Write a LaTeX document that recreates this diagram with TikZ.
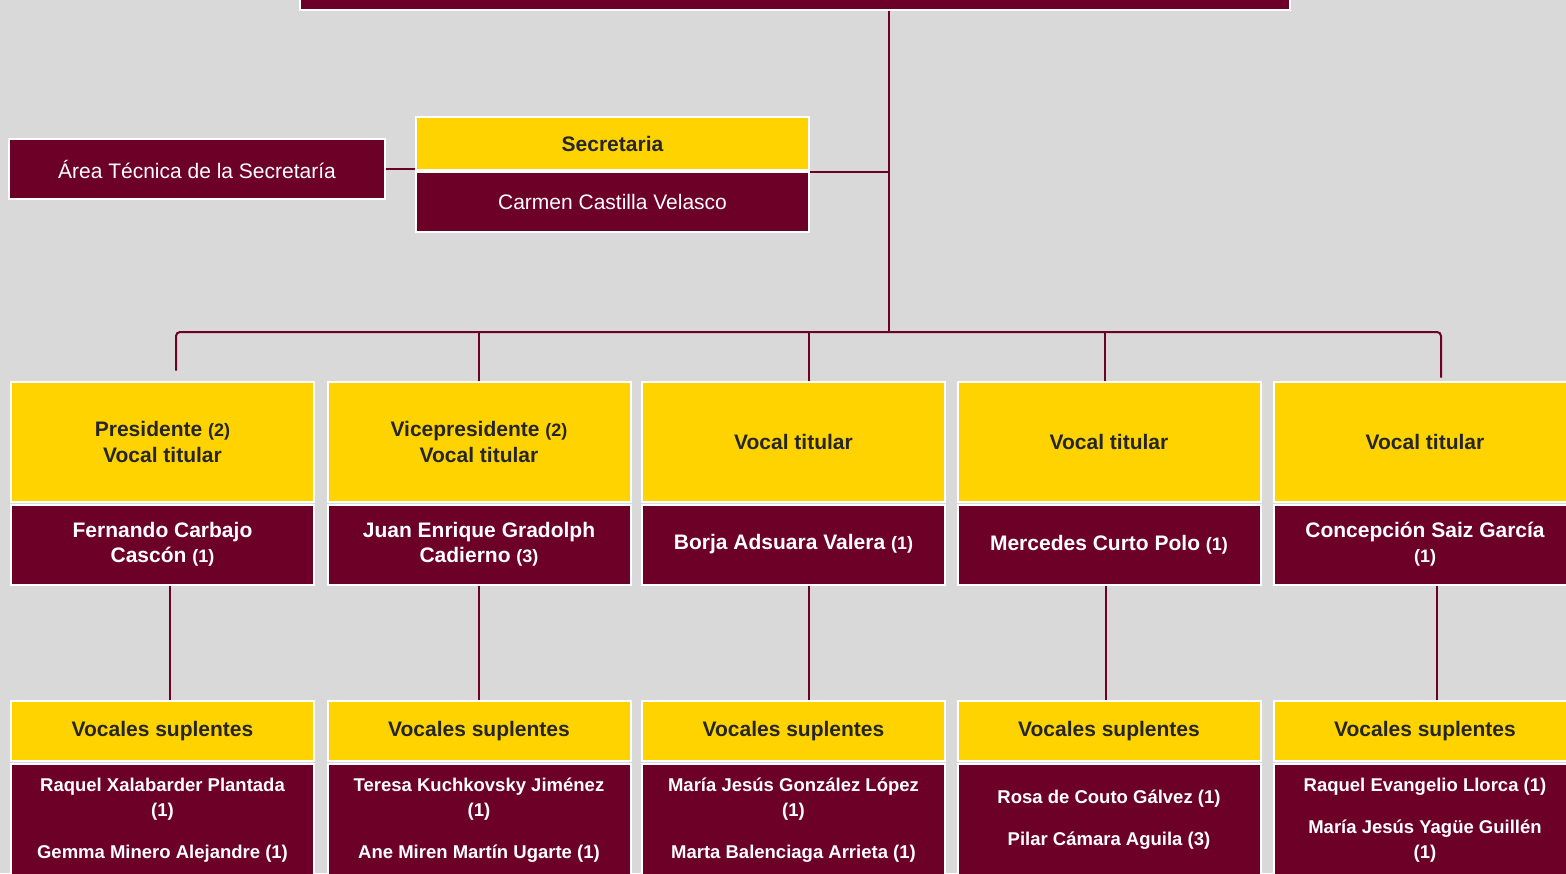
\documentclass[tikz,border=0pt]{standalone}
\usepackage{fontspec}
\setmainfont{Liberation Sans}
\usepackage{xcolor}
\definecolor{granate}{HTML}{6D0027}
\definecolor{oro}{HTML}{FFD300}
\definecolor{fondo}{HTML}{D9D9D9}
\definecolor{tinta}{HTML}{262626}
\usepackage{tikz}
\usetikzlibrary{positioning}
\tikzstyle{cargo} = [rectangle, draw=white, line width=2pt, fill=oro, text=tinta,
    font=\bfseries\fontsize{21}{26}\selectfont, align=center, inner sep=0pt,
    minimum width=303pt, minimum height=120pt]
\tikzstyle{titular} = [rectangle, draw=white, line width=2pt, fill=granate, text=white,
    font=\bfseries\fontsize{21}{25}\selectfont, align=center, inner sep=0pt,
    minimum width=303pt, minimum height=80pt]
\tikzstyle{suplentes} = [cargo, minimum height=60pt]
\tikzstyle{nombres} = [titular, font=\bfseries\fontsize{18.5}{25}\selectfont, minimum height=112pt]
\tikzstyle{plain} = [rectangle, draw=white, line width=2pt, fill=granate, text=white,
    font=\fontsize{21}{25}\selectfont, inner sep=0pt]
\tikzstyle{line} = [draw=granate, line width=2pt]
\newcommand{\nota}[1]{{\fontsize{18}{25}\selectfont #1}}

\begin{document}
\begin{tikzpicture}[x=1pt,y=-1pt,node distance=1pt]
    \useasboundingbox (0,0) rectangle (1566,873);
    \clip (0,0) rectangle (1566,873);
    \fill[fondo] (0,0) rectangle (1566,873);

    % Place nodes
    \node[plain, minimum width=990pt, minimum height=60pt] (top) at (795,-20) {};

    \node[plain, minimum width=376pt, minimum height=60pt] (area) at (197,169) {Área Técnica de la Secretaría};
    \node[cargo, minimum width=393pt, minimum height=53pt] (sec) at (612.5,143.5) {Secretaria};
    \node[plain, minimum width=393pt, minimum height=60pt, below=0pt of sec] (secname) {Carmen Castilla Velasco};

    \node[cargo] (cargo1) at (162.5,441.5) {Presidente \nota{(2)}\\Vocal titular};
    \node[cargo] (cargo2) at (479,441.5) {Vicepresidente \nota{(2)}\\Vocal titular};
    \node[cargo] (cargo3) at (793.5,441.5) {Vocal titular};
    \node[cargo] (cargo4) at (1109,441.5) {Vocal titular};
    \node[cargo] (cargo5) at (1425,441.5) {Vocal titular};

    \node[titular, below=of cargo1] (titular1) {Fernando Carbajo\\Cascón \nota{(1)}};
    \node[titular, below=of cargo2] (titular2) {Juan Enrique Gradolph\\Cadierno \nota{(3)}};
    \node[titular, below=of cargo3] (titular3) {Borja Adsuara Valera \nota{(1)}};
    \node[titular, below=of cargo4] (titular4) {Mercedes Curto Polo \nota{(1)}};
    \node[titular, below=of cargo5] (titular5) {Concepción Saiz García\\\nota{(1)}};

    \node[suplentes, below=114.5pt of titular1] (suplentes1) {Vocales suplentes};
    \node[suplentes, below=114.5pt of titular2] (suplentes2) {Vocales suplentes};
    \node[suplentes, below=114.5pt of titular3] (suplentes3) {Vocales suplentes};
    \node[suplentes, below=114.5pt of titular4] (suplentes4) {Vocales suplentes};
    \node[suplentes, below=114.5pt of titular5] (suplentes5) {Vocales suplentes};

    \node[nombres, below=of suplentes1] (nombres1) {Raquel Xalabarder Plantada\\(1)\\[17pt]Gemma Minero Alejandre (1)};
    \node[nombres, below=of suplentes2] (nombres2) {Teresa Kuchkovsky Jiménez\\(1)\\[17pt]Ane Miren Martín Ugarte (1)};
    \node[nombres, below=of suplentes3] (nombres3) {María Jesús González López\\(1)\\[17pt]Marta Balenciaga Arrieta (1)};
    \node[nombres, below=of suplentes4] (nombres4) {Rosa de Couto Gálvez (1)\\[17pt]Pilar Cámara Aguila (3)};
    \node[nombres, below=of suplentes5] (nombres5) {Raquel Evangelio Llorca (1)\\[17pt]María Jesús Yagüe Guillén\\(1)};

    % Draw edges
    \coordinate (bus) at (889,332);
    \path [line] (top.south -| bus) -- (bus);
    \path [line] ([yshift=-1pt]secname.north east) -- ([yshift=-1pt]secname.north east -| bus);
    \path [line] (area.east) -- (area.east -| sec.west);

    \path [line,rounded corners=4pt] ([xshift=13.5pt,yshift=10pt]cargo1.north) |- ([xshift=16pt]cargo5.north |- bus) -- ([xshift=16pt,yshift=3pt]cargo5.north);
    \path [line] (cargo2.north) -- (cargo2.north |- bus);
    \path [line] ([xshift=15pt]cargo3.north) -- ([xshift=15pt]cargo3.north |- bus);
    \path [line] ([xshift=-4pt]cargo4.north) -- ([xshift=-4pt]cargo4.north |- bus);

    \path [line] ([xshift=7.5pt]titular1.south) -- ([xshift=7.5pt]suplentes1.north);
    \path [line] (titular2.south) -- (suplentes2.north);
    \path [line] ([xshift=15.5pt]titular3.south) -- ([xshift=15.5pt]suplentes3.north);
    \path [line] ([xshift=-3pt]titular4.south) -- ([xshift=-3pt]suplentes4.north);
    \path [line] ([xshift=12pt]titular5.south) -- ([xshift=12pt]suplentes5.north);
\end{tikzpicture}
\end{document}
